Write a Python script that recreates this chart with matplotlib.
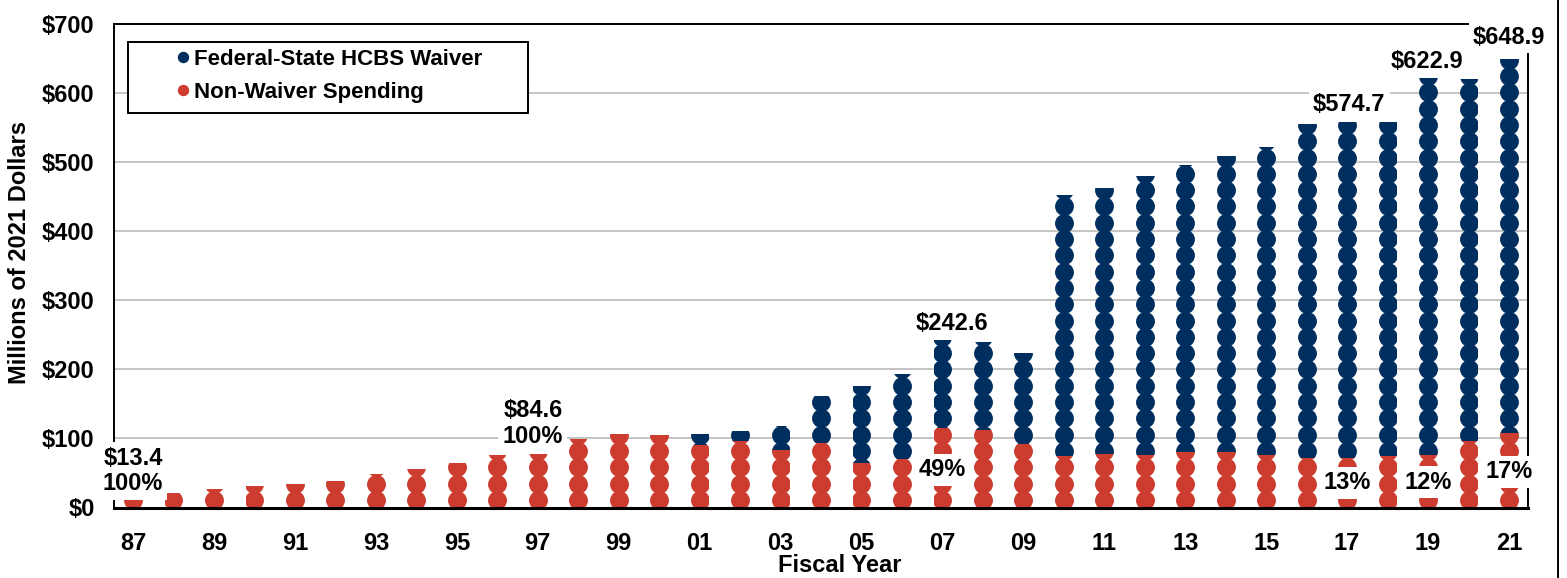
import numpy as np
import matplotlib.pyplot as plt
from matplotlib.lines import Line2D
from matplotlib.patches import Rectangle

plt.rcParams['font.family'] = ['Liberation Sans', 'DejaVu Sans']
plt.rcParams['font.weight'] = 'bold'

# data (millions of 2021 dollars), fiscal years 1987-2021
years = ['87', '88', '89', '90', '91', '92', '93', '94', '95', '96', '97', '98',
         '99', '00', '01', '02', '03', '04', '05', '06', '07', '08', '09', '10',
         '11', '12', '13', '14', '15', '16', '17', '18', '19', '20', '21']
non_waiver = [13.4, 20.3, 26.1, 30.8, 33.7, 38.1, 48.2, 55.5, 64.6, 75.7, 78.0, 98.9,
              107.1, 104.7, 91.7, 97.5, 84.4, 94.6, 65.6, 71.8, 117.0, 113.4, 92.7, 76.2,
              78.6, 77.2, 81.5, 81.5, 77.2, 73.3, 73.3, 75.7, 78.0, 97.5, 109.5]
waiver = [0, 0, 0, 0, 0, 0, 0, 0, 0, 0, 0, 0,
          0, 0, 14.0, 13.0, 34.3, 66.6, 110.1, 121.2, 125.6, 125.6, 130.3, 376.5,
          383.8, 402.6, 414.7, 427.5, 444.8, 481.7, 484.7, 482.3, 544.9, 522.5, 539.4]

# callout labels: (bar index, text)
callouts = [(0, '$13.4\n100%'), (10, '$84.6\n100%'), (20, '$242.6'), (20, '49%'),
            (30, '$574.7'), (30, '13%'), (32, '$622.9'), (32, '12%'),
            (34, '$648.9'), (34, '17%')]

c_waiver = '#002F5F'
c_non = '#CC3D2F'

W, H = 1567, 578
fig = plt.figure(figsize=(W / 100, H / 100), dpi=100)
ax = fig.add_axes([114 / W, 1 - 507.5 / H, 1414 / W, 483.5 / H])

x = np.arange(len(years))
width = 0.44
dot_y = 11 + 23.6 * np.arange(32)

b1 = ax.bar(x, non_waiver, width, color='none', linewidth=0)
b2 = ax.bar(x, waiver, width, bottom=non_waiver, color='none', linewidth=0)

# dot pattern fill, clipped to each bar segment
for bars, col in [(b1, c_non), (b2, c_waiver)]:
    for i, r in enumerate(bars):
        if r.get_height() <= 0:
            continue
        ln, = ax.plot(np.full(len(dot_y), x[i]), dot_y, 'o', ms=13.6,
                      color=col, mec='none', zorder=2)
        ln.set_clip_path(r)

ax.set_xlim(-0.47, 34.47)
ax.set_ylim(0, 700)
ax.set_yticks(np.arange(0, 701, 100))
ax.set_yticklabels(['$%d' % v for v in range(0, 701, 100)])
ax.set_xticks(x[::2])
ax.set_xticklabels(years[::2])
ax.tick_params(axis='both', length=0, labelsize=17)
ax.tick_params(axis='x', pad=18)
ax.tick_params(axis='y', pad=14)

ax.grid(axis='y', color='#BFBFBF', linewidth=1.3)
ax.set_axisbelow(True)
for s in ['top', 'left', 'right']:
    ax.spines[s].set_linewidth(1.4)
ax.spines['bottom'].set_linewidth(2.2)

# callout positions (x offset, y in data units)
pos = {'$13.4\n100%': (0.0, 52.8), '$84.6\n100%': (-0.12, 121.6),
       '$242.6': (0.24, 267), '49%': (0.0, 54.3), '$574.7': (0.05, 584),
       '13%': (0.0, 35.5), '$622.9': (-0.03, 645), '12%': (0.0, 36.9),
       '$648.9': (0.0, 681), '17%': (0.0, 51.4)}
for idx, txt in callouts:
    dx, yy = pos[txt]
    ax.text(idx + dx, yy, txt, ha='center', va='center', fontsize=17,
            fontweight='bold', zorder=5, clip_on=False, linespacing=1.15,
            bbox=dict(facecolor='white', edgecolor='none', pad=3))

# legend
ax.add_patch(Rectangle((0.0099, 0.8159), 0.2829, 0.1468, transform=ax.transAxes,
                       facecolor='white', edgecolor='black', linewidth=1.4,
                       zorder=4))
handles = [Line2D([], [], marker='o', ls='none', ms=8.2, color=c_waiver, mec='none'),
           Line2D([], [], marker='o', ls='none', ms=8.2, color=c_non, mec='none')]
leg = ax.legend(handles, ['Federal-State HCBS Waiver', 'Non-Waiver Spending'],
                loc='upper left', bbox_to_anchor=(0.0392, 0.9628), frameon=False,
                fontsize=16, handlelength=0.6, handletextpad=0.2, borderpad=0.3,
                labelspacing=0.55, borderaxespad=0)
leg.set_zorder(6)

fig.text(840 / W, 1 - 566 / H, 'Fiscal Year', ha='center', va='center',
         fontsize=17, fontweight='bold')
fig.text(20 / W, 1 - 253 / H, 'Millions of 2021 Dollars', ha='center', va='center',
         rotation=90, fontsize=17, fontweight='bold')

fig.add_artist(Line2D([1558 / W, 1558 / W], [0, 1], transform=fig.transFigure,
                      color='black', linewidth=1.4))

plt.savefig('out.png', dpi=100, facecolor='white')
